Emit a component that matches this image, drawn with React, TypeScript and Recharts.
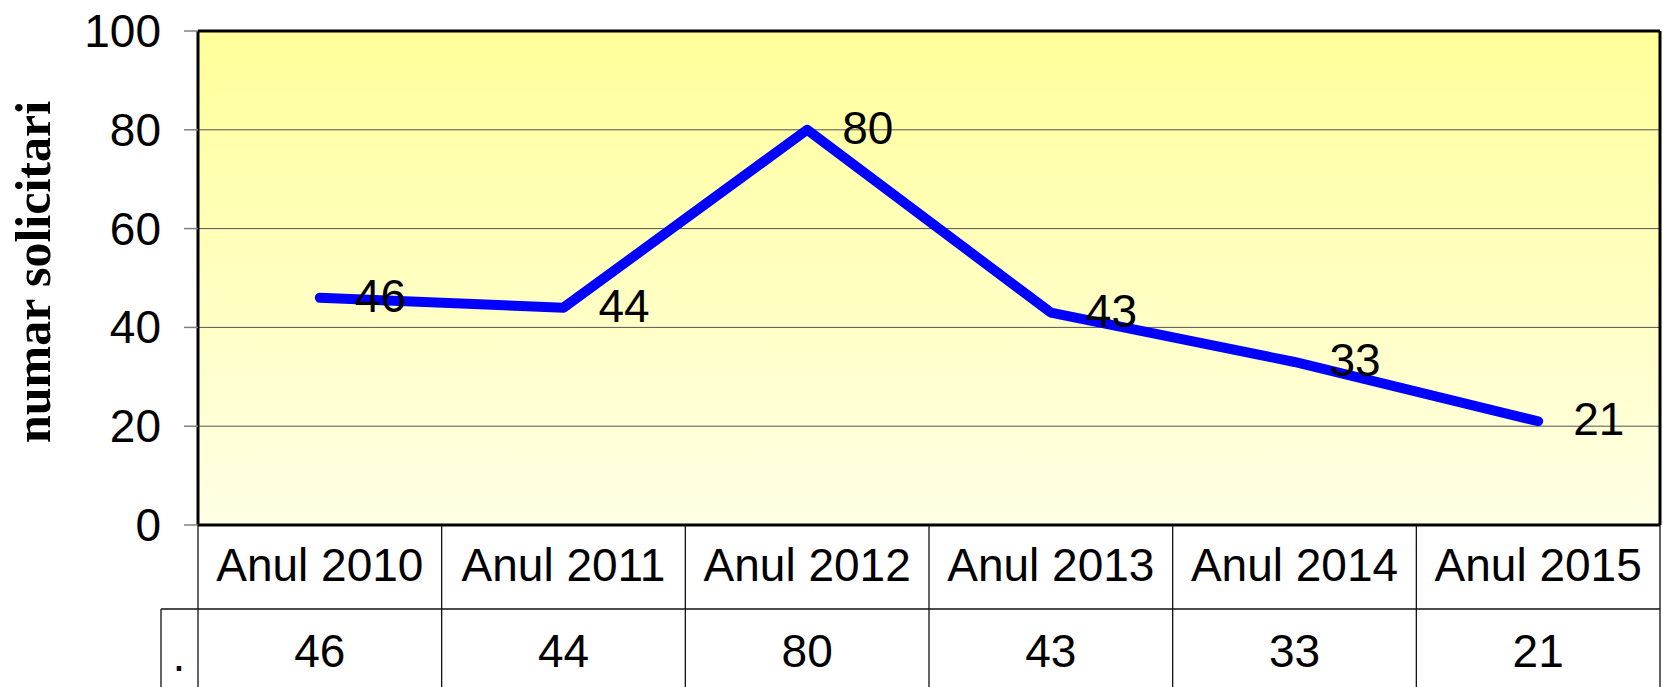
import React from 'react';
import { LineChart, Line, XAxis, YAxis, CartesianGrid, LabelList } from 'recharts';

const categories = ['Anul 2010', 'Anul 2011', 'Anul 2012', 'Anul 2013', 'Anul 2014', 'Anul 2015'];
const values = [46, 44, 80, 43, 33, 21];
const yTicks = [0, 20, 40, 60, 80, 100];
const seriesName = '.';
const yTitle = 'numar solicitari';

const data = categories.map((c, i) => ({ name: c, value: values[i] }));

const W = 1663;
const H = 687;
const M_TOP = 30;
const M_RIGHT = 2;
const TOP_AX = 1;
const RIGHT_AX = 1;
const Y_W = 198;
const X_H = 162;
const PLOT_W = W - Y_W - M_RIGHT - RIGHT_AX;
const COL_W = PLOT_W / categories.length;
const FONT = '"Liberation Sans", Arial, sans-serif';
const BORDER = { stroke: '#000', strokeWidth: 3 };

const XTick = (props: any) => {
  const { x, y, index, payload } = props;
  const half = COL_W / 2;
  const left = x - half;
  const right = x + half;
  const rowH = 84;
  const ls = { stroke: '#111', strokeWidth: 1.3 };
  return (
    <g>
      <line x1={left} y1={y} x2={left} y2={y + X_H} {...ls} />
      {index === categories.length - 1 && <line x1={right} y1={y} x2={right} y2={y + X_H} {...ls} />}
      <line x1={left} y1={y + rowH} x2={right} y2={y + rowH} {...ls} />
      <text x={x} y={y + 56} textAnchor="middle" fontSize={46} fontFamily={FONT} fill="#000">
        {payload.value}
      </text>
      <text x={x} y={y + 142} textAnchor="middle" fontSize={46} fontFamily={FONT} fill="#000">
        {values[index]}
      </text>
      {index === 0 && (
        <g>
          <line x1={left - 37} y1={y + rowH} x2={left} y2={y + rowH} {...ls} />
          <line x1={left - 37} y1={y + rowH} x2={left - 37} y2={y + X_H} {...ls} />
          <text x={left - 19} y={y + 146} textAnchor="middle" fontSize={46} fontFamily={FONT} fill="#000">
            {seriesName}
          </text>
        </g>
      )}
    </g>
  );
};

const YTick = (props: any) => {
  const { y, payload } = props;
  return (
    <text x={161} y={y + 16} textAnchor="end" fontSize={46} fontFamily={FONT} fill="#000">
      {payload.value}
    </text>
  );
};

const renderLabel = (props: any) => {
  const { x, y, value } = props;
  return (
    <text x={x + 35} y={y + 14} fontSize={46} fontFamily={FONT} fill="#000">
      {value}
    </text>
  );
};

const YTitle = (props: any) => {
  const vb = props.viewBox || { y: M_TOP, height: H - M_TOP - X_H };
  const cy = vb.y + vb.height / 2 - 6;
  const cx = 50;
  return (
    <text
      x={cx}
      y={cy}
      textAnchor="middle"
      transform={`rotate(-90, ${cx}, ${cy})`}
      fontSize={50}
      fontWeight="bold"
      fontFamily='"Liberation Serif", "Times New Roman", serif'
      fill="#000"
    >
      {yTitle}
    </text>
  );
};

export default function App() {
  return (
    <div style={{ position: 'absolute', left: 0, top: 0, width: W, height: H, background: '#fff' }}>
      <LineChart width={W} height={H} data={data} margin={{ top: M_TOP, right: M_RIGHT, left: 0, bottom: 0 }}>
        <defs>
          <linearGradient id="plotBg" x1="0" y1="0" x2="0" y2="1">
            <stop offset="0%" stopColor="#FFFF99" />
            <stop offset="100%" stopColor="#FFFFE6" />
          </linearGradient>
        </defs>
        <CartesianGrid vertical={false} stroke="#555" strokeWidth={1} fill="url(#plotBg)" fillOpacity={1} />
        <XAxis
          dataKey="name"
          type="category"
          height={X_H}
          padding={{ left: COL_W / 2, right: COL_W / 2 }}
          axisLine={BORDER}
          tickLine={false}
          tickSize={0}
          tickMargin={0}
          interval={0}
          tick={<XTick />}
        />
        <XAxis
          xAxisId="top"
          orientation="top"
          dataKey="name"
          type="category"
          height={TOP_AX}
          padding={{ left: COL_W / 2, right: COL_W / 2 }}
          axisLine={BORDER}
          tickLine={false}
          tick={false}
        />
        <YAxis
          width={Y_W}
          domain={[0, 100]}
          ticks={yTicks}
          interval={0}
          axisLine={BORDER}
          tickLine={{ stroke: '#808080', strokeWidth: 1.5 }}
          tickSize={14}
          tick={<YTick />}
          label={{ content: <YTitle /> }}
        />
        <YAxis
          yAxisId="right"
          orientation="right"
          width={RIGHT_AX}
          domain={[0, 100]}
          ticks={yTicks}
          axisLine={BORDER}
          tickLine={false}
          tick={false}
        />
        <Line
          type="linear"
          dataKey="value"
          stroke="#0000FF"
          strokeWidth={10}
          strokeLinecap="round"
          strokeLinejoin="round"
          dot={false}
          activeDot={false}
          isAnimationActive={false}
        >
          <LabelList dataKey="value" content={renderLabel} />
        </Line>
      </LineChart>
    </div>
  );
}
